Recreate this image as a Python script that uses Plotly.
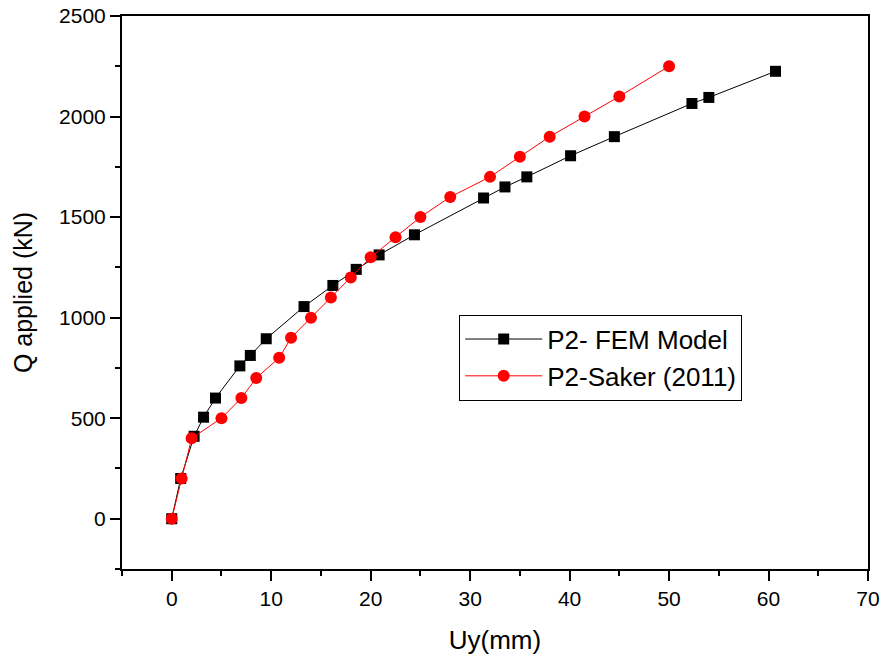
import plotly.graph_objects as go

fem_x = [0, 0.9, 2.25, 3.2, 4.4, 6.85, 7.9, 9.5, 13.3, 16.2, 18.55, 20.85, 24.4, 31.35, 33.5, 35.7, 40.1, 44.5, 52.3, 54.0, 60.7]
fem_y = [0, 200, 410, 505, 600, 760, 812, 895, 1055, 1160, 1240, 1312, 1412, 1595, 1650, 1700, 1805, 1900, 2065, 2095, 2225]

saker_x = [0, 1.0, 2.0, 5.0, 7.0, 8.5, 10.8, 12.0, 14.0, 16.0, 18.0, 20.0, 22.5, 25.0, 28.0, 32.0, 35.0, 38.0, 41.5, 45.0, 50.0]
saker_y = [0, 200, 400, 500, 600, 700, 800, 900, 1000, 1100, 1200, 1300, 1400, 1500, 1600, 1700, 1800, 1900, 2000, 2100, 2250]

x_ticks = [0, 10, 20, 30, 40, 50, 60, 70]
y_ticks = [0, 500, 1000, 1500, 2000, 2500]

fig = go.Figure()
fig.add_trace(go.Scatter(
    x=fem_x, y=fem_y, mode="lines+markers", name="P2- FEM Model",
    line=dict(color="black", width=1),
    marker=dict(symbol="square", size=11, color="black"),
))
fig.add_trace(go.Scatter(
    x=saker_x, y=saker_y, mode="lines+markers", name="P2-Saker (2011)",
    line=dict(color="red", width=1),
    marker=dict(symbol="circle", size=12, color="red"),
))

FONT = "Arial, Liberation Sans, sans-serif"

axis_common = dict(
    showline=True, linecolor="black", linewidth=2, mirror=True,
    ticks="outside", ticklen=10, tickwidth=2, tickcolor="black",
    showgrid=False, zeroline=False, automargin=False,
    ticklabeloverflow="allow",
    tickfont=dict(family=FONT, size=21, color="black"),
)

fig.update_layout(
    width=881, height=656,
    margin=dict(l=122, r=13, t=16, b=87),
    paper_bgcolor="white", plot_bgcolor="white",
    font=dict(family=FONT, color="black"),
    xaxis=dict(
        range=[-5, 70], tickvals=x_ticks,
        title=dict(text="Uy(mm)", font=dict(family=FONT, size=26), standoff=22),
        minor=dict(dtick=5, tick0=0, ticks="outside", ticklen=5, tickwidth=2, tickcolor="black"),
        **axis_common,
    ),
    yaxis=dict(
        range=[-250, 2500], tickvals=y_ticks,
        title=dict(text="Q applied (kN)", font=dict(family=FONT, size=25), standoff=19),
        minor=dict(dtick=250, tick0=0, ticks="outside", ticklen=5, tickwidth=2, tickcolor="black"),
        **axis_common,
    ),
    legend=dict(
        x=0.452, y=0.46, xanchor="left", yanchor="top",
        bordercolor="black", borderwidth=1, bgcolor="white",
        font=dict(family=FONT, size=26, color="black"),
        tracegroupgap=0, itemwidth=77,
    ),
    showlegend=True,
)

# remove the default 8px page margin so the figure fills the window exactly
fig.write_html(
    "out.html",
    config={"displayModeBar": False},
    post_script="document.body.style.margin='0px';",
)
